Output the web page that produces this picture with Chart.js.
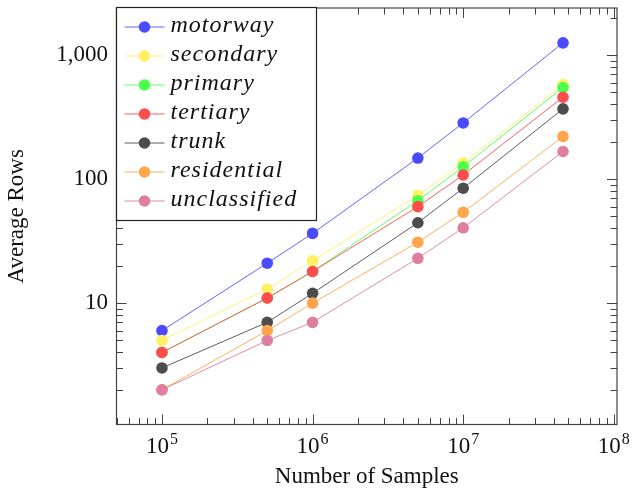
<!DOCTYPE html>
<html>
<head>
<meta charset="utf-8">
<script src="https://cdn.jsdelivr.net/npm/chart.js@4"></script>
<style>
  html, body { margin: 0; padding: 0; background: #fff; }
  #wrap { width: 633px; height: 491px; }
</style>
</head>
<body>
<div id="wrap"><canvas id="chart" width="633" height="491"></canvas></div>
<script>
var samples = [1e5, 5e5, 1e6, 5e6, 1e7, 4.6e7];

var motorway     = [6, 21, 36.5, 148, 284, 1256];
var secondary    = [5, 13, 22, 74, 135, 580];
var primary      = [4, 11, 18, 67, 126, 548];
var tertiary     = [4, 11, 18, 60, 108, 458];
var trunk        = [3, 7, 12, 44.5, 84.5, 369];
var residential  = [2, 6, 10, 31, 54, 221];
var unclassified = [2, 5, 7, 23, 40.5, 167];

var xTicks = [1e5, 1e6, 1e7, 1e8];
var xTickExponents = ['5', '6', '7', '8'];
var yTicks = [10, 100, 1000];
var yTickLabels = ['10', '100', '1,000'];

var serif = '"Liberation Serif", "DejaVu Serif", serif';

function series(label, values, color, line, order) {
    return {
        label: label,
        data: samples.map(function (x, i) { return { x: x, y: values[i] }; }),
        borderColor: line,
        backgroundColor: color,
        pointBackgroundColor: color,
        pointBorderWidth: 0,
        pointRadius: 5.8,
        borderWidth: 1,
        tension: 0,
        order: order
    };
}

// box round the plot area, with inward major and minor ticks on all sides,
// and the 10^n labels under the x axis
var frame = {
    id: 'frame',
    beforeDatasetsDraw: function (chart) {
        var ctx = chart.ctx, a = chart.chartArea;
        var xs = chart.scales.x, ys = chart.scales.y;
        ctx.save();
        ctx.strokeStyle = '#444';
        ctx.lineWidth = 1;
        ctx.beginPath();
        function tx(v, len) {
            var p = Math.round(xs.getPixelForValue(v)) + 0.5;
            ctx.moveTo(p, a.bottom); ctx.lineTo(p, a.bottom - len);
            ctx.moveTo(p, a.top); ctx.lineTo(p, a.top + len);
        }
        function ty(v, len) {
            var p = Math.round(ys.getPixelForValue(v)) + 0.5;
            ctx.moveTo(a.left, p); ctx.lineTo(a.left + len, p);
            ctx.moveTo(a.right, p); ctx.lineTo(a.right - len, p);
        }
        for (var e = 4; e <= 8; e++) {
            for (var m = 1; m <= 9; m++) {
                var v = m * Math.pow(10, e);
                if (v <= xs.min || v >= xs.max) continue;
                tx(v, m === 1 ? 10 : 6.5);
            }
        }
        for (var k = 0; k <= 3; k++) {
            for (var n = 1; n <= 9; n++) {
                var w = n * Math.pow(10, k);
                if (w <= ys.min || w >= ys.max) continue;
                ty(w, n === 1 ? 10 : 6.5);
            }
        }
        ctx.stroke();
        ctx.lineWidth = 1.2;
        ctx.strokeRect(a.left, a.top, a.right - a.left, a.bottom - a.top);

        ctx.fillStyle = '#111';
        ctx.textBaseline = 'alphabetic';
        ctx.textAlign = 'left';
        xTicks.forEach(function (v, i) {
            var px = xs.getPixelForValue(v);
            ctx.font = '23px ' + serif;
            var bw = ctx.measureText('10').width;
            ctx.font = '16px ' + serif;
            var ew = ctx.measureText(xTickExponents[i]).width;
            var x0 = px - (bw + ew + 1) / 2;
            ctx.font = '23px ' + serif;
            ctx.fillText('10', x0, a.bottom + 28);
            ctx.font = '16px ' + serif;
            ctx.fillText(xTickExponents[i], x0 + bw + 1, a.bottom + 19.5);
        });
        ctx.restore();
    }
};

// pgfplots-style legend in the upper left corner
var boxLegend = {
    id: 'boxLegend',
    afterDraw: function (chart) {
        var ctx = chart.ctx, a = chart.chartArea;
        var sets = chart.data.datasets;
        var x0 = a.left, y0 = a.top - 0.5, w = 200, h = 213;
        ctx.save();
        ctx.fillStyle = '#fff';
        ctx.fillRect(x0, y0, w, h);
        ctx.strokeStyle = '#222';
        ctx.lineWidth = 1.2;
        ctx.strokeRect(x0, y0, w, h);
        ctx.font = 'italic 24px ' + serif;
        ctx.textBaseline = 'middle';
        ctx.letterSpacing = '1px';
        sets.forEach(function (d, i) {
            var cy = y0 + 19.5 + i * 29;
            ctx.strokeStyle = d.borderColor;
            ctx.lineWidth = 1;
            ctx.beginPath();
            ctx.moveTo(x0 + 8, cy); ctx.lineTo(x0 + 48, cy);
            ctx.stroke();
            ctx.fillStyle = d.pointBackgroundColor;
            ctx.beginPath();
            ctx.arc(x0 + 28, cy, 5.8, 0, Math.PI * 2);
            ctx.fill();
            ctx.fillStyle = '#111';
            ctx.fillText(d.label, x0 + 54, cy - 1);
        });
        ctx.restore();
    }
};

new Chart(document.getElementById('chart').getContext('2d'), {
    type: 'line',
    data: {
        datasets: [
            series('motorway', motorway, '#4a4aff', 'rgba(74,74,255,0.85)', 7),
            series('secondary', secondary, '#fff066', 'rgba(255,240,102,0.9)', 6),
            series('primary', primary, '#4dff4d', 'rgba(77,255,77,0.9)', 5),
            series('tertiary', tertiary, '#ff4d4d', 'rgba(255,77,77,0.9)', 4),
            series('trunk', trunk, '#4d4d4d', 'rgba(77,77,77,0.9)', 3),
            series('residential', residential, '#ffa64d', 'rgba(255,166,77,0.9)', 2),
            series('unclassified', unclassified, '#de7f9f', 'rgba(222,127,159,0.9)', 1)
        ]
    },
    options: {
        responsive: false,
        animation: false,
        layout: { padding: { left: 0, top: 8, right: 16, bottom: 0 } },
        plugins: {
            legend: { display: false },
            tooltip: { enabled: false }
        },
        scales: {
            x: {
                type: 'logarithmic',
                min: 49900,
                max: 1.05e8,
                afterBuildTicks: function (s) {
                    s.ticks = xTicks.map(function (v) { return { value: v }; });
                },
                afterFit: function (s) { s.height = 66.5; s.paddingLeft = 0; s.paddingRight = 0; },
                grid: { display: false, drawTicks: false },
                border: { display: false },
                ticks: { display: false },
                title: {
                    display: true,
                    text: 'Number of Samples',
                    color: '#111',
                    font: { family: serif, size: 23 },
                    padding: { top: 0, bottom: 0 }
                }
            },
            y: {
                type: 'logarithmic',
                min: 1.05,
                max: 2400,
                afterBuildTicks: function (s) {
                    s.ticks = yTicks.map(function (v) { return { value: v }; });
                },
                afterFit: function (s) { s.width = 116.5; s.paddingTop = 0; s.paddingBottom = 0; },
                grid: { display: false, drawTicks: false },
                border: { display: false },
                ticks: {
                    autoSkip: false,
                    padding: 8.5,
                    color: '#111',
                    font: { family: serif, size: 23 },
                    callback: function (v) { return yTickLabels[yTicks.indexOf(v)]; }
                },
                title: {
                    display: true,
                    text: 'Average Rows',
                    color: '#111',
                    font: { family: serif, size: 23 },
                    padding: { top: 3, bottom: 0 }
                }
            }
        }
    },
    plugins: [frame, boxLegend]
});
</script>
</body>
</html>
